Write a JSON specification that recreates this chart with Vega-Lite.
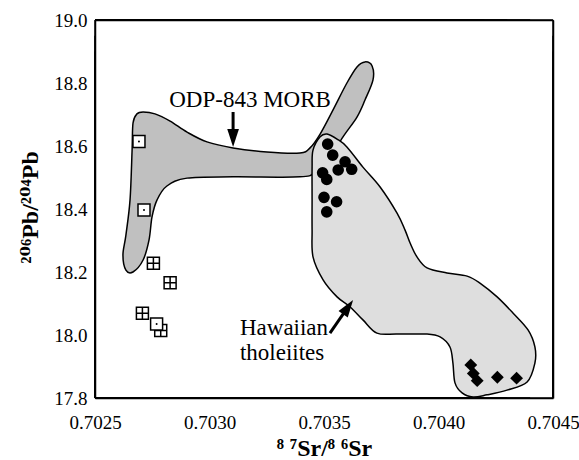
{
  "$schema": "https://vega.github.io/schema/vega-lite/v6.json",
  "width": 458,
  "height": 378,
  "autosize": {"type": "none"},
  "padding": {"left": 95, "top": 20, "right": 26, "bottom": 62},
  "background": "white",
  "config": {
    "view": {"stroke": null},
    "font": "Liberation Serif, Times New Roman, DejaVu Serif, serif",
    "axis": {"grid": false, "ticks": false, "domainColor": "black", "domainWidth": 1.5, "labelFlush": false, "labelOverlap": false, "labelBound": false}
  },
  "datasets": {
    "morb": [
      {"i": 1, "sr": 0.702666, "pb": 18.673}, {"i": 2, "sr": 0.702683, "pb": 18.702},
      {"i": 3, "sr": 0.70271, "pb": 18.708}, {"i": 4, "sr": 0.702762, "pb": 18.702},
      {"i": 5, "sr": 0.702828, "pb": 18.679}, {"i": 6, "sr": 0.702902, "pb": 18.644},
      {"i": 7, "sr": 0.702989, "pb": 18.613}, {"i": 8, "sr": 0.703103, "pb": 18.594},
      {"i": 9, "sr": 0.703251, "pb": 18.581}, {"i": 10, "sr": 0.703395, "pb": 18.578},
      {"i": 11, "sr": 0.703439, "pb": 18.594}, {"i": 12, "sr": 0.703483, "pb": 18.638},
      {"i": 13, "sr": 0.703539, "pb": 18.714}, {"i": 14, "sr": 0.7036, "pb": 18.8},
      {"i": 15, "sr": 0.703644, "pb": 18.851}, {"i": 16, "sr": 0.703679, "pb": 18.867},
      {"i": 17, "sr": 0.70371, "pb": 18.854}, {"i": 18, "sr": 0.703714, "pb": 18.81},
      {"i": 19, "sr": 0.703679, "pb": 18.746}, {"i": 20, "sr": 0.703644, "pb": 18.692},
      {"i": 21, "sr": 0.703583, "pb": 18.629}, {"i": 22, "sr": 0.703526, "pb": 18.562},
      {"i": 23, "sr": 0.703461, "pb": 18.517}, {"i": 24, "sr": 0.703395, "pb": 18.502},
      {"i": 25, "sr": 0.703103, "pb": 18.502}, {"i": 26, "sr": 0.702902, "pb": 18.498},
      {"i": 27, "sr": 0.702814, "pb": 18.473}, {"i": 28, "sr": 0.702771, "pb": 18.429},
      {"i": 29, "sr": 0.702749, "pb": 18.375}, {"i": 30, "sr": 0.702736, "pb": 18.302},
      {"i": 31, "sr": 0.70271, "pb": 18.238}, {"i": 32, "sr": 0.702666, "pb": 18.2},
      {"i": 33, "sr": 0.702635, "pb": 18.206}, {"i": 34, "sr": 0.702622, "pb": 18.254},
      {"i": 35, "sr": 0.702635, "pb": 18.317}, {"i": 36, "sr": 0.702653, "pb": 18.429},
      {"i": 37, "sr": 0.702662, "pb": 18.587}
    ],
    "hawaii": [
      {"i": 1, "sr": 0.703483, "pb": 18.629}, {"i": 2, "sr": 0.703513, "pb": 18.638},
      {"i": 3, "sr": 0.703557, "pb": 18.622}, {"i": 4, "sr": 0.7036, "pb": 18.597},
      {"i": 5, "sr": 0.70367, "pb": 18.533}, {"i": 6, "sr": 0.703745, "pb": 18.47},
      {"i": 7, "sr": 0.703819, "pb": 18.387}, {"i": 8, "sr": 0.703854, "pb": 18.333},
      {"i": 9, "sr": 0.703876, "pb": 18.292}, {"i": 10, "sr": 0.703906, "pb": 18.248},
      {"i": 11, "sr": 0.70395, "pb": 18.213}, {"i": 12, "sr": 0.704037, "pb": 18.197},
      {"i": 13, "sr": 0.704125, "pb": 18.187}, {"i": 14, "sr": 0.704181, "pb": 18.165},
      {"i": 15, "sr": 0.704256, "pb": 18.121}, {"i": 16, "sr": 0.704325, "pb": 18.07},
      {"i": 17, "sr": 0.704391, "pb": 18.016}, {"i": 18, "sr": 0.704421, "pb": 17.962},
      {"i": 19, "sr": 0.704421, "pb": 17.911}, {"i": 20, "sr": 0.704387, "pb": 17.851},
      {"i": 21, "sr": 0.704299, "pb": 17.825}, {"i": 22, "sr": 0.704212, "pb": 17.81},
      {"i": 23, "sr": 0.704151, "pb": 17.803}, {"i": 24, "sr": 0.704103, "pb": 17.816},
      {"i": 25, "sr": 0.704072, "pb": 17.848}, {"i": 26, "sr": 0.704063, "pb": 17.911},
      {"i": 27, "sr": 0.70405, "pb": 17.962}, {"i": 28, "sr": 0.704007, "pb": 17.994},
      {"i": 29, "sr": 0.70395, "pb": 18.003}, {"i": 30, "sr": 0.703819, "pb": 18.003},
      {"i": 31, "sr": 0.703731, "pb": 18.006}, {"i": 32, "sr": 0.70367, "pb": 18.048},
      {"i": 33, "sr": 0.703614, "pb": 18.089}, {"i": 34, "sr": 0.703557, "pb": 18.121},
      {"i": 35, "sr": 0.703496, "pb": 18.175}, {"i": 36, "sr": 0.703452, "pb": 18.248},
      {"i": 37, "sr": 0.703448, "pb": 18.333}, {"i": 38, "sr": 0.703448, "pb": 18.429},
      {"i": 39, "sr": 0.703448, "pb": 18.533}, {"i": 40, "sr": 0.703452, "pb": 18.587}
    ],
    "sqcross": [
      {"sr": 0.702787, "pb": 18.014}, {"sr": 0.702755, "pb": 18.228},
      {"sr": 0.702828, "pb": 18.166}, {"sr": 0.702707, "pb": 18.069}
    ],
    "sqdot": [
      {"sr": 0.702692, "pb": 18.614}, {"sr": 0.702714, "pb": 18.397},
      {"sr": 0.702769, "pb": 18.035}
    ],
    "circles": [
      {"sr": 0.703516, "pb": 18.606}, {"sr": 0.703538, "pb": 18.571},
      {"sr": 0.703592, "pb": 18.55}, {"sr": 0.703621, "pb": 18.526},
      {"sr": 0.703562, "pb": 18.524}, {"sr": 0.703494, "pb": 18.515},
      {"sr": 0.703512, "pb": 18.494}, {"sr": 0.7035, "pb": 18.437},
      {"sr": 0.703555, "pb": 18.423}, {"sr": 0.703512, "pb": 18.391}
    ],
    "diamonds": [
      {"sr": 0.704141, "pb": 17.905}, {"sr": 0.704152, "pb": 17.878},
      {"sr": 0.704169, "pb": 17.855}, {"sr": 0.704257, "pb": 17.866},
      {"sr": 0.704341, "pb": 17.863}
    ],
    "labels": [
      {"sr": 0.703177, "pb": 18.724, "text": "ODP-843 MORB", "anchor": "center"},
      {"sr": 0.703133, "pb": 18.0, "text": "Hawaiian", "anchor": "left"},
      {"sr": 0.703133, "pb": 17.921, "text": "tholeiites", "anchor": "left"}
    ],
    "xticks": [
      {"sr": 0.7025, "major": true}, {"sr": 0.7026, "major": false}, {"sr": 0.7027, "major": false},
      {"sr": 0.7028, "major": false}, {"sr": 0.7029, "major": false}, {"sr": 0.703, "major": true},
      {"sr": 0.7031, "major": false}, {"sr": 0.7032, "major": false}, {"sr": 0.7033, "major": false},
      {"sr": 0.7034, "major": false}, {"sr": 0.7035, "major": true}, {"sr": 0.7036, "major": false},
      {"sr": 0.7037, "major": false}, {"sr": 0.7038, "major": false}, {"sr": 0.7039, "major": false},
      {"sr": 0.704, "major": true}, {"sr": 0.7041, "major": false}, {"sr": 0.7042, "major": false},
      {"sr": 0.7043, "major": false}, {"sr": 0.7044, "major": false}, {"sr": 0.7045, "major": true}
    ],
    "yticks": [
      {"pb": 17.8, "major": true}, {"pb": 17.85, "major": false}, {"pb": 17.9, "major": false},
      {"pb": 17.95, "major": false}, {"pb": 18.0, "major": true}, {"pb": 18.05, "major": false},
      {"pb": 18.1, "major": false}, {"pb": 18.15, "major": false}, {"pb": 18.2, "major": true},
      {"pb": 18.25, "major": false}, {"pb": 18.3, "major": false}, {"pb": 18.35, "major": false},
      {"pb": 18.4, "major": true}, {"pb": 18.45, "major": false}, {"pb": 18.5, "major": false},
      {"pb": 18.55, "major": false}, {"pb": 18.6, "major": true}, {"pb": 18.65, "major": false},
      {"pb": 18.7, "major": false}, {"pb": 18.75, "major": false}, {"pb": 18.8, "major": true},
      {"pb": 18.85, "major": false}, {"pb": 18.9, "major": false}, {"pb": 18.95, "major": false},
      {"pb": 19.0, "major": true}
    ]
  },
  "encoding": {
    "x": {"field": "sr", "type": "quantitative", "scale": {"domain": [0.7025, 0.7045], "nice": false, "zero": false}, "axis": null},
    "y": {"field": "pb", "type": "quantitative", "scale": {"domain": [17.8, 19.0], "nice": false, "zero": false}, "axis": null}
  },
  "layer": [
    {
      "data": {"name": "morb"},
      "mark": {"type": "line", "interpolate": "cardinal-closed", "fill": "#c0c0c0", "stroke": "black", "strokeWidth": 1.5},
      "encoding": {
        "order": {"field": "i", "type": "quantitative"},
        "x": {
          "field": "sr", "type": "quantitative",
          "scale": {"domain": [0.7025, 0.7045], "nice": false, "zero": false},
          "axis": {
            "orient": "bottom",
            "values": [0.7025, 0.703, 0.7035, 0.704, 0.7045],
            "format": ".4f",
            "labelFont": "Liberation Serif, Times New Roman, DejaVu Serif, serif", "labelFontSize": 19, "labelColor": "black", "labelPadding": 15,
            "title": "⁸ ⁷Sr/⁸ ⁶Sr", "titleFont": "Liberation Serif, Times New Roman, DejaVu Serif, serif", "titleFontSize": 24, "titleFontWeight": "bold", "titleColor": "black",
            "titleX": 229, "titleY": 57, "titleBaseline": "alphabetic", "titleAlign": "center"
          }
        },
        "y": {
          "field": "pb", "type": "quantitative",
          "scale": {"domain": [17.8, 19.0], "nice": false, "zero": false},
          "axis": {
            "orient": "left",
            "values": [17.8, 18.0, 18.2, 18.4, 18.6, 18.8, 19.0],
            "format": ".1f",
            "labelFont": "Liberation Serif, Times New Roman, DejaVu Serif, serif", "labelFontSize": 19, "labelColor": "black", "labelPadding": 8,
            "title": "²⁰⁶Pb/²⁰⁴Pb", "titleFont": "Liberation Serif, Times New Roman, DejaVu Serif, serif", "titleFontSize": 24, "titleFontWeight": "bold", "titleColor": "black",
            "titleX": -58, "titleY": 187, "titleAngle": -90, "titleBaseline": "alphabetic", "titleAlign": "center"
          }
        }
      }
    },
    {
      "data": {"name": "hawaii"},
      "mark": {"type": "line", "interpolate": "cardinal-closed", "fill": "#dedede", "stroke": "black", "strokeWidth": 1.5},
      "encoding": {
        "order": {"field": "i", "type": "quantitative"},
        "x": {
          "field": "sr", "type": "quantitative",
          "scale": {"domain": [0.7025, 0.7045], "nice": false, "zero": false},
          "axis": {"orient": "top", "values": [0.7025, 0.7045], "labels": false, "title": null}
        },
        "y": {
          "field": "pb", "type": "quantitative",
          "scale": {"domain": [17.8, 19.0], "nice": false, "zero": false},
          "axis": {"orient": "right", "values": [17.8, 19.0], "labels": false, "title": null}
        }
      }
    },
    {
      "data": {"name": "xticks"},
      "mark": {"type": "rule", "stroke": "black", "strokeWidth": 1.5},
      "encoding": {
        "y": {"value": 378},
        "y2": {"expr": "datum.major ? 369 : 373"}
      }
    },
    {
      "data": {"name": "xticks"},
      "mark": {"type": "rule", "stroke": "black", "strokeWidth": 1.5},
      "encoding": {
        "y": {"value": 0},
        "y2": {"expr": "datum.major ? 9 : 5"}
      }
    },
    {
      "data": {"name": "yticks"},
      "mark": {"type": "rule", "stroke": "black", "strokeWidth": 1.5},
      "encoding": {
        "x": {"value": 0},
        "x2": {"expr": "datum.major ? 8 : 5"}
      }
    },
    {
      "data": {"name": "yticks"},
      "mark": {"type": "rule", "stroke": "black", "strokeWidth": 1.5},
      "encoding": {
        "x": {"value": 458},
        "x2": {"expr": "datum.major ? 450 : 453"}
      }
    },
    {
      "data": {"values": [
        {"sr": 0.703103, "pb": 18.708, "sr2": 0.703103, "pb2": 18.651},
        {"sr": 0.703526, "pb": 18.006, "sr2": 0.703587, "pb2": 18.07}
      ]},
      "mark": {"type": "rule", "stroke": "black", "strokeWidth": 3},
      "encoding": {
        "x2": {"field": "sr2"},
        "y2": {"field": "pb2"}
      }
    },
    {
      "data": {"values": [{"sr": 0.703103, "pb": 18.597}]},
      "mark": {"type": "point", "shape": "M0,0L0.65,-2L-0.65,-2Z", "size": 324, "filled": true, "color": "black", "opacity": 1, "strokeWidth": 0}
    },
    {
      "data": {"values": [{"sr": 0.703627, "pb": 18.111}]},
      "mark": {"type": "point", "shape": "M0,0L0.65,2L-0.65,2Z", "size": 300, "angle": 35, "filled": true, "color": "black", "opacity": 1, "strokeWidth": 0}
    },
    {
      "data": {"name": "sqcross"},
      "mark": {"type": "point", "shape": "M-1,-1H1V1H-1Z M-1,0H1 M0,-1V1", "size": 144, "filled": true, "fill": "white", "stroke": "black", "strokeWidth": 1.5, "opacity": 1}
    },
    {
      "data": {"name": "sqdot"},
      "mark": {"type": "point", "shape": "square", "size": 144, "filled": true, "fill": "white", "stroke": "black", "strokeWidth": 1.5, "opacity": 1}
    },
    {
      "data": {"name": "sqdot"},
      "mark": {"type": "point", "shape": "circle", "size": 4, "filled": true, "color": "black", "opacity": 1}
    },
    {
      "data": {"name": "circles"},
      "mark": {"type": "point", "shape": "circle", "size": 135, "filled": true, "color": "black", "opacity": 1}
    },
    {
      "data": {"name": "diamonds"},
      "mark": {"type": "point", "shape": "diamond", "size": 165, "filled": true, "color": "black", "opacity": 1}
    },
    {
      "data": {"name": "labels"},
      "transform": [{"filter": "datum.anchor == 'center'"}],
      "mark": {"type": "text", "align": "center", "baseline": "alphabetic", "font": "Liberation Serif, Times New Roman, DejaVu Serif, serif", "fontSize": 23, "color": "black"},
      "encoding": {"text": {"field": "text"}}
    },
    {
      "data": {"name": "labels"},
      "transform": [{"filter": "datum.anchor == 'left'"}],
      "mark": {"type": "text", "align": "left", "baseline": "alphabetic", "font": "Liberation Serif, Times New Roman, DejaVu Serif, serif", "fontSize": 23, "color": "black"},
      "encoding": {"text": {"field": "text"}}
    }
  ],
  "resolve": {"axis": {"x": "independent", "y": "independent"}}
}
